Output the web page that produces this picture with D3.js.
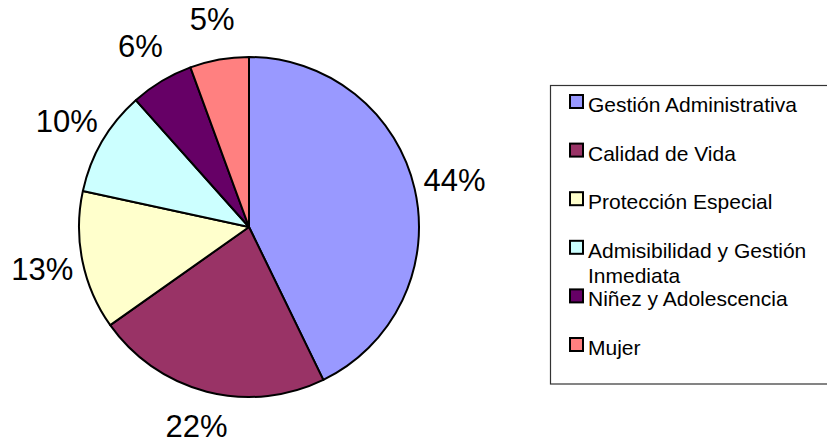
<!DOCTYPE html>
<html>
<head>
<meta charset="utf-8">
<script src="https://cdn.jsdelivr.net/npm/d3@7"></script>
<style>
  html, body { margin: 0; padding: 0; background: #fff; }
  svg { display: block; }
  text { font-family: "Liberation Sans", Arial, sans-serif; fill: #000; }
</style>
</head>
<body>
<svg id="chart" width="827" height="445"></svg>
<script>
// Data
const categories = ["Gestión Administrativa", "Calidad de Vida", "Protección Especial",
                    "Admisibilidad y Gestión Inmediata", "Niñez y Adolescencia", "Mujer"];
const values = [42.8, 22.4, 13.2, 10.0, 6.0, 5.6];
const percentLabels = ["44%", "22%", "13%", "10%", "6%", "5%"];
const colors = ["#9999FF", "#993366", "#FFFFCC", "#CCFFFF", "#660066", "#FF8080"];
const legendLines = [["Gestión Administrativa"], ["Calidad de Vida"], ["Protección Especial"],
                     ["Admisibilidad y Gestión", "Inmediata"], ["Niñez y Adolescencia"], ["Mujer"]];

const W = 827, H = 445;
const svg = d3.select("#chart");
const cx = 249, cy = 227, r = 170, labelR = 211;
const pctSize = 31;

const pie = d3.pie().sort(null).value(d => d)(values);
const arc = d3.arc().innerRadius(0).outerRadius(r);
const labelArc = d3.arc().innerRadius(labelR).outerRadius(labelR);

const g = svg.append("g").attr("transform", `translate(${cx},${cy})`);
g.selectAll("path.slice").data(pie).enter().append("path")
  .attr("class", "slice")
  .attr("d", arc)
  .attr("fill", (d, i) => colors[i])
  .attr("stroke", "#000")
  .attr("stroke-width", 2)
  .attr("stroke-linejoin", "round");

// keep label text box inside the picture
const maxCy = H - cy - pctSize * (0.36 + 0.215) - 1;
g.selectAll("text.pct").data(pie).enter().append("text")
  .attr("class", "pct")
  .attr("transform", d => {
    const [x, y] = labelArc.centroid(d);
    return `translate(${x},${Math.min(y, maxCy)})`;
  })
  .attr("text-anchor", "middle")
  .attr("dy", "0.36em")
  .style("font-size", pctSize + "px")
  .text((d, i) => percentLabels[i]);

// Legend
const lg = svg.append("g");
lg.append("rect")
  .attr("x", 550.5).attr("y", 85.5)
  .attr("width", 300).attr("height", 298.5)
  .attr("fill", "#fff").attr("stroke", "#333").attr("stroke-width", 1.2);

const y0 = 112, step = 48.6;
const items = lg.selectAll("g.item").data(categories).enter().append("g")
  .attr("class", "item")
  .attr("transform", (d, i) => `translate(0,${y0 + i * step})`);
items.append("rect")
  .attr("x", 570).attr("y", -17)
  .attr("width", 13).attr("height", 13)
  .attr("fill", (d, i) => colors[i])
  .attr("stroke", "#000").attr("stroke-width", 2);
items.append("text")
  .attr("x", 588).attr("y", 0)
  .style("font-size", "21px")
  .each(function(d, i) {
    const t = d3.select(this);
    legendLines[i].forEach((line, j) => {
      t.append("tspan").attr("x", 588).attr("y", j * 25).text(line);
    });
  });
</script>
</body>
</html>
